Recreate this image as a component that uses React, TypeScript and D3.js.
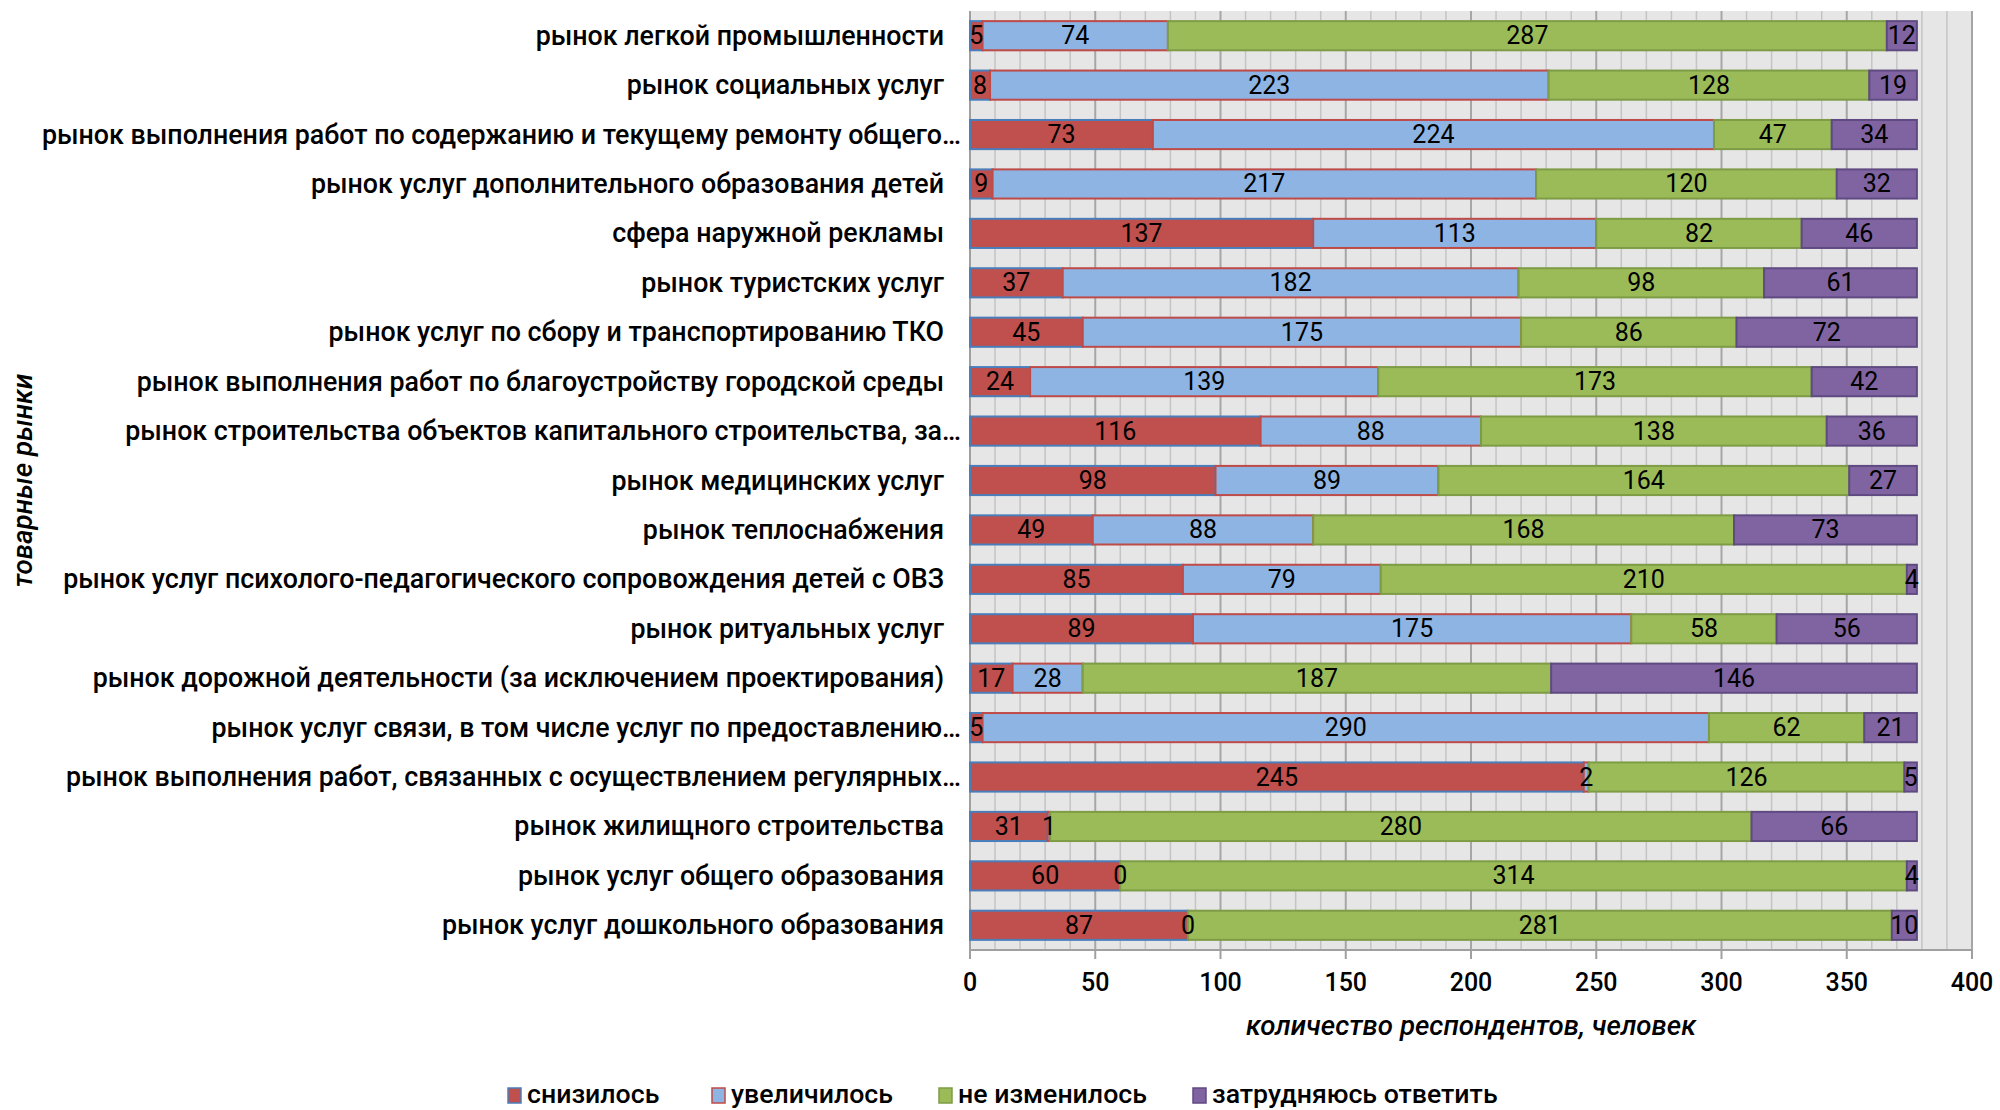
import React from "react";
import * as d3 from "d3";

const categories = [
  "рынок легкой промышленности",
  "рынок социальных услуг",
  "рынок выполнения работ по содержанию и текущему ремонту общего…",
  "рынок услуг дополнительного образования детей",
  "сфера наружной рекламы",
  "рынок туристских услуг",
  "рынок услуг по сбору и транспортированию ТКО",
  "рынок выполнения работ по благоустройству городской среды",
  "рынок строительства объектов капитального строительства, за…",
  "рынок медицинских услуг",
  "рынок теплоснабжения",
  "рынок услуг психолого-педагогического сопровождения детей с ОВЗ",
  "рынок ритуальных услуг",
  "рынок дорожной деятельности (за исключением проектирования)",
  "рынок услуг связи, в том числе услуг по предоставлению…",
  "рынок выполнения работ, связанных с осуществлением регулярных…",
  "рынок жилищного строительства",
  "рынок услуг общего образования",
  "рынок услуг дошкольного образования",
];

const decreased = [5, 8, 73, 9, 137, 37, 45, 24, 116, 98, 49, 85, 89, 17, 5, 245, 31, 60, 87];
const increased = [74, 223, 224, 217, 113, 182, 175, 139, 88, 89, 88, 79, 175, 28, 290, 2, 1, 0, 0];
const unchanged = [287, 128, 47, 120, 82, 98, 86, 173, 138, 164, 168, 210, 58, 187, 62, 126, 280, 314, 281];
const hardToSay = [12, 19, 34, 32, 46, 61, 72, 42, 36, 27, 73, 4, 56, 146, 21, 5, 66, 4, 10];

const seriesNames = ["снизилось", "увеличилось", "не изменилось", "затрудняюсь ответить"];
const seriesFill = ["#c0504d", "#8eb4e3", "#9bbb59", "#8064a2"];
const seriesStroke = ["#4a7ebb", "#be4b48", "#7e9c45", "#5f4a82"];
const xTicks = [0, 50, 100, 150, 200, 250, 300, 350, 400];

const W = 2000;
const H = 1110;
const M = { left: 970, right: 1972, top: 11, bottom: 950 };
const FONT = "Roboto, 'Noto Sans', sans-serif";

export default function App() {
  const x = d3.scaleLinear().domain([0, 400]).range([M.left, M.right]);
  const y = d3
    .scaleBand<string>()
    .domain(categories)
    .range([M.top, M.bottom])
    .paddingInner(0.41)
    .paddingOuter(0.205);

  const rows = categories.map((c, i) => ({
    cat: c,
    vals: [decreased[i], increased[i], unchanged[i], hardToSay[i]],
  }));
  const stack = d3
    .stack<any>()
    .keys(["0", "1", "2", "3"])
    .value((d: any, k: string) => d.vals[+k]);
  const stacked = stack(rows);

  const minor = d3.range(0, 401, 10);

  const legendX = [508, 712, 939, 1193];

  return (
    <svg
      width={W}
      height={H}
      style={{ position: "absolute", left: 0, top: 0, background: "#fff" }}
      fontFamily={FONT}
    >
      <rect x={M.left} y={M.top} width={M.right - M.left} height={M.bottom - M.top} fill="#e6e6e6" />
      {minor.map((v) => (
        <line
          key={"g" + v}
          x1={x(v)}
          x2={x(v)}
          y1={M.top}
          y2={M.bottom}
          stroke={v % 50 === 0 ? "#a6a6a6" : "#c4c4c4"}
          strokeWidth={v % 50 === 0 ? 2 : 1.5}
        />
      ))}
      <line x1={M.left} x2={M.left} y1={M.top} y2={M.bottom + 9} stroke="#a0a0a0" strokeWidth={2} />
      <line x1={M.left} x2={M.right} y1={M.bottom} y2={M.bottom} stroke="#a0a0a0" strokeWidth={2} />
      {xTicks.map((t) => (
        <g key={"t" + t}>
          <line x1={x(t)} x2={x(t)} y1={M.bottom} y2={M.bottom + 9} stroke="#a0a0a0" strokeWidth={2} />
          <text x={x(t)} y={984} textAnchor="middle" dominantBaseline="middle" fontSize={25} fontWeight={500} fill="#000">
            {t}
          </text>
        </g>
      ))}
      {stacked.map((s, si) =>
        s.map((d: any, i: number) => {
          const yy = y(categories[i])!;
          const x0 = x(d[0]);
          const x1 = x(d[1]);
          return (
            <rect
              key={"b" + si + "-" + i}
              x={x0}
              y={yy}
              width={Math.max(0, x1 - x0)}
              height={y.bandwidth()}
              fill={seriesFill[si]}
              stroke={seriesStroke[si]}
              strokeWidth={2}
            />
          );
        })
      )}
      {stacked.map((s, si) =>
        s.map((d: any, i: number) => {
          const yy = y(categories[i])! + y.bandwidth() / 2;
          const cx = (x(d[0]) + x(d[1])) / 2;
          return (
            <text
              key={"l" + si + "-" + i}
              x={cx}
              y={yy}
              textAnchor="middle"
              dominantBaseline="central"
              fontSize={25}
              fill="#000"
            >
              {d[1] - d[0]}
            </text>
          );
        })
      )}
      {categories.map((c) => (
        <text
          key={"c" + c}
          x={c.endsWith("…") ? 961 : 944}
          y={y(c)! + y.bandwidth() / 2}
          textAnchor="end"
          dominantBaseline="central"
          fontSize={26.8}
          fontWeight={500}
          fill="#000"
        >
          {c}
        </text>
      ))}
      <text
        x={(M.left + M.right) / 2}
        y={1025}
        textAnchor="middle"
        dominantBaseline="central"
        fontSize={27.7}
        fontWeight={500}
        fontStyle="italic"
        fill="#000"
      >
        количество респондентов, человек
      </text>
      <text
        transform={`translate(22, ${(M.top + M.bottom) / 2}) rotate(-90)`}
        textAnchor="middle"
        dominantBaseline="central"
        fontSize={27.7}
        fontWeight={500}
        fontStyle="italic"
        fill="#000"
      >
        товарные рынки
      </text>
      {seriesNames.map((n, i) => (
        <g key={"lg" + i}>
          <rect
            x={legendX[i]}
            y={1088}
            width={13}
            height={15}
            fill={seriesFill[i]}
            stroke={seriesStroke[i]}
            strokeWidth={1.5}
          />
          <text x={legendX[i] + 19} y={1094} dominantBaseline="central" fontSize={26.7} fontWeight={500} fill="#000">
            {n}
          </text>
        </g>
      ))}
    </svg>
  );
}
